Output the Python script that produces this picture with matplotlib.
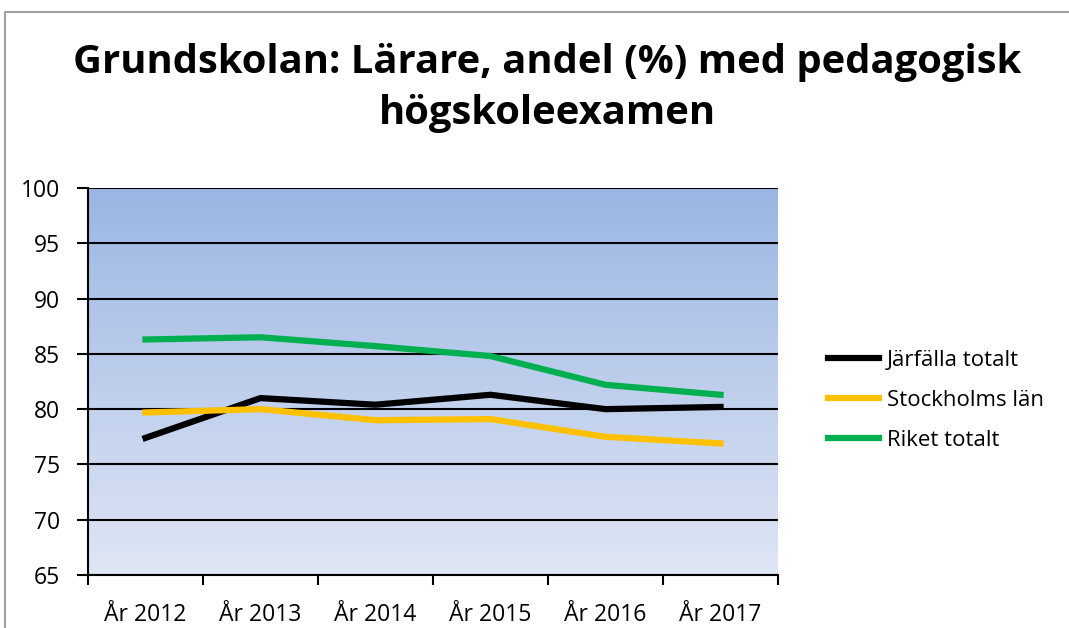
import numpy as np
import matplotlib
matplotlib.use('Agg')
from matplotlib import pyplot as plt
from matplotlib.lines import Line2D
from matplotlib.colors import LinearSegmentedColormap

plt.rcParams['font.family'] = ['Open Sans', 'DejaVu Sans']

years = ['År 2012', 'År 2013', 'År 2014', 'År 2015', 'År 2016', 'År 2017']
jarfalla = [77.4, 81.0, 80.4, 81.3, 80.0, 80.2]
stockholm = [79.7, 80.0, 79.0, 79.1, 77.5, 76.9]
riket = [86.3, 86.5, 85.7, 84.8, 82.2, 81.3]

fig = plt.figure(figsize=(10.69, 6.28), dpi=100)
ax = fig.add_axes([88 / 1069, 1 - 575 / 628, 690 / 1069, 387 / 628])

# gradient background
cmap = LinearSegmentedColormap.from_list('bg', ['#dfe6f5', '#9bb6e3'])
grad = np.linspace(0, 1, 256).reshape(-1, 1)
ax.imshow(grad, cmap=cmap, aspect='auto', extent=[0, 1, 0, 1],
          transform=ax.transAxes, origin='lower', zorder=0)

x = np.arange(len(years))
ax.plot(x, jarfalla, color='black', lw=4.5, label='Järfälla totalt', zorder=3)
ax.plot(x, stockholm, color='#ffc000', lw=4.5, label='Stockholms län', zorder=3)
ax.plot(x, riket, color='#00b050', lw=4.5, label='Riket totalt', zorder=3)

ax.set_xlim(-0.5, 5.5)
ax.set_ylim(65, 100)
ax.set_yticks(range(65, 101, 5))
ax.set_xticks(x)
ax.set_xticklabels(years)
ax.set_xticks(np.arange(-0.5, 6, 1), minor=True)
ax.tick_params(axis='x', which='major', length=0, labelsize=16.5, pad=20)
ax.tick_params(axis='x', which='minor', length=7, width=1.5, direction='out')
ax.tick_params(axis='y', labelsize=16.5, length=8, width=1.5, direction='out', pad=12)
ax.yaxis.grid(True, color='black', lw=1.5, zorder=1)
ax.set_axisbelow(False)
for s in ['top', 'right']:
    ax.spines[s].set_visible(False)
for s in ['left', 'bottom']:
    ax.spines[s].set_linewidth(1.5)

fig.legend(loc='upper left', bbox_to_anchor=(828 / 1069, 1 - 350 / 628),
           frameon=False, fontsize=16, handlelength=2.3, labelspacing=0.86,
           handletextpad=0.35, borderpad=0, borderaxespad=0)

fig.text(0.512, 1 - 88 / 628, 'Grundskolan: Lärare, andel (%) med pedagogisk\nhögskoleexamen',
         ha='center', va='center', fontsize=28.8, fontweight='bold', linespacing=1.38)

# outer chart border
fig.add_artist(Line2D([5 / 1069, 5 / 1069, 1.0], [0, 1 - 12 / 628, 1 - 12 / 628],
                      color='#a0a0a0', lw=1.5, transform=fig.transFigure))

fig.savefig('out.png', dpi=100)
